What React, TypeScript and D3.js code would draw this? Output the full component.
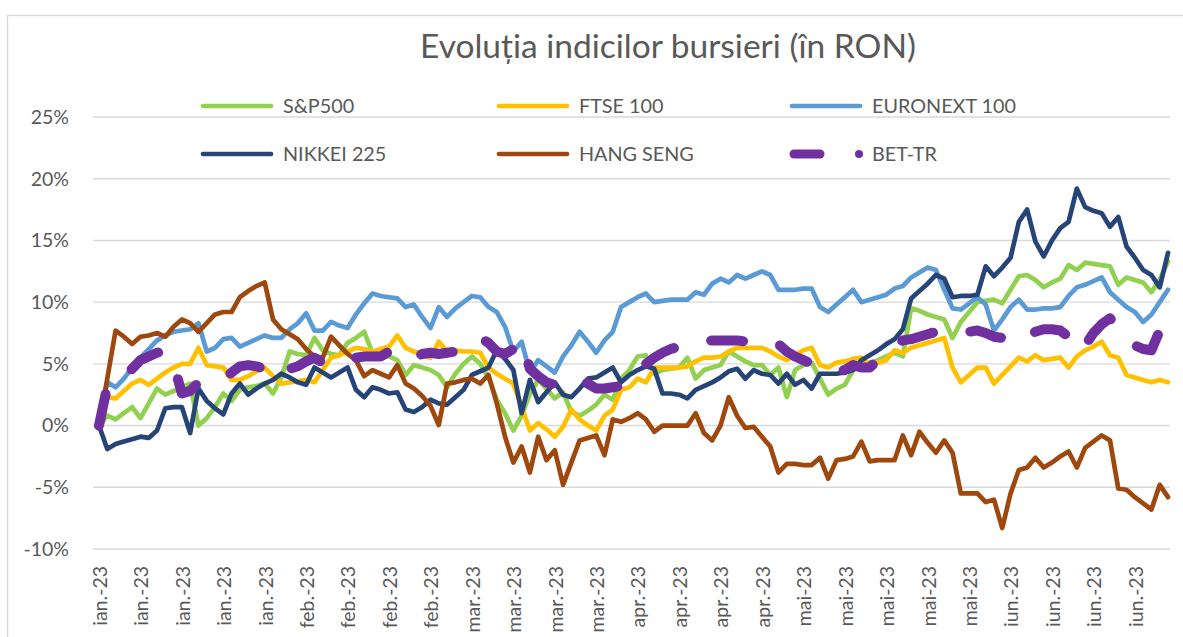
import React from 'react';
import * as d3 from 'd3';

const W = 1183;
const H = 637;

// x axis labels, one every 5 trading days
const tickLabels = [
  'ian.-23', 'ian.-23', 'ian.-23', 'ian.-23', 'ian.-23',
  'feb.-23', 'feb.-23', 'feb.-23', 'feb.-23',
  'mar.-23', 'mar.-23', 'mar.-23', 'mar.-23',
  'apr.-23', 'apr.-23', 'apr.-23', 'apr.-23',
  'mai-23', 'mai-23', 'mai-23', 'mai-23', 'mai-23',
  'iun.-23', 'iun.-23', 'iun.-23', 'iun.-23',
];
const yTicks = [-10, -5, 0, 5, 10, 15, 20, 25];

// daily % change vs start, in RON
const sp500 = [
  0, 0.8, 0.5, 1.0, 1.5, 0.6, 1.8, 3.0, 2.5, 2.8,
  3.1, 3.4, 0.0, 0.6, 1.5, 2.6, 2.0, 2.9, 3.1, 3.2,
  3.4, 2.6, 3.9, 6.0, 5.8, 5.7, 7.1, 6.1, 5.8, 5.7,
  6.7, 7.1, 7.6, 5.9, 5.7, 5.6, 5.3, 4.1, 4.9, 4.7,
  4.5, 4.1, 3.1, 4.2, 5.0, 5.6, 5.0, 3.9, 2.1, 1.0,
  -0.4, 0.8, 2.6, 3.7, 3.0, 2.2, 2.7, 1.1, 0.8, 1.2,
  1.7, 2.5, 2.1, 3.8, 4.5, 5.6, 5.7, 4.2, 4.5, 4.6,
  4.7, 5.5, 3.8, 4.5, 4.7, 4.9, 6.0, 5.6, 5.2, 4.9,
  4.9, 4.1, 4.7, 2.3, 4.5, 4.9, 5.1, 3.8, 2.5, 3.0,
  3.3, 4.5, 4.8, 5.1, 5.3, 5.6, 5.9, 5.6, 9.5, 9.3,
  9.0, 8.8, 8.6, 7.1, 8.4, 9.2, 10.0, 10.1, 10.2, 9.9,
  11.0, 12.1, 12.2, 11.8, 11.2, 11.6, 11.9, 13.0, 12.6, 13.2,
  13.1, 13.0, 12.9, 11.4, 12.0, 11.8, 11.6, 10.8, 11.8, 13.3,
];

const ftse100 = [
  0, 2.3, 2.2, 2.8, 3.4, 3.7, 3.3, 3.8, 4.3, 4.7,
  5.0, 5.0, 6.3, 4.9, 4.8, 4.7, 3.7, 3.7, 4.0, 4.4,
  4.7, 4.0, 3.4, 3.5, 3.6, 3.7, 3.5, 4.5, 5.5, 5.7,
  6.0, 6.3, 6.2, 6.0, 6.2, 6.4, 7.3, 6.3, 6.0, 5.7,
  5.5, 6.8, 6.0, 6.1, 6.0, 6.0, 5.9, 4.7, 4.2, 3.8,
  3.4, 1.5, -0.4, 0.2, -0.3, -0.9, -0.1, 1.3, 0.5, 0.0,
  -0.4, 0.8, 1.3, 2.9, 3.1, 3.8, 3.5, 4.7, 4.7, 4.7,
  4.7, 4.8, 5.2, 5.5, 5.5, 5.6, 6.0, 6.3, 6.3, 6.3,
  6.3, 6.0, 5.6, 5.3, 5.7, 6.1, 6.3, 4.9, 4.7, 5.1,
  5.2, 5.4, 5.5, 4.9, 5.1, 5.3, 6.1, 5.9, 6.3, 6.5,
  6.7, 6.9, 7.1, 4.7, 3.5, 4.1, 4.7, 4.7, 3.4, 4.1,
  4.8, 5.5, 5.2, 5.7, 5.3, 5.4, 5.5, 4.7, 5.6, 6.1,
  6.4, 6.8, 5.7, 5.5, 4.1, 3.9, 3.7, 3.5, 3.7, 3.5,
];

const euronext100 = [
  0, 3.5, 3.1, 3.8, 4.7, 5.5, 6.2, 6.9, 7.3, 7.6,
  7.7, 7.8, 8.3, 6.0, 6.3, 7.0, 7.1, 6.4, 6.7, 7.0,
  7.3, 7.1, 7.1, 7.8, 8.3, 9.1, 7.7, 7.7, 8.4, 8.1,
  7.9, 9.0, 9.9, 10.7, 10.5, 10.4, 10.3, 9.6, 9.8, 8.8,
  7.9, 9.6, 8.8, 9.5, 10.0, 10.5, 10.4, 9.6, 9.2, 8.0,
  6.0, 6.8, 4.3, 5.3, 4.8, 4.3, 5.6, 6.5, 7.6, 6.8,
  5.9, 6.9, 7.6, 9.6, 10.0, 10.4, 10.7, 10.0, 10.1, 10.2,
  10.2, 10.2, 10.8, 10.6, 11.5, 11.9, 11.6, 12.2, 11.9, 12.2,
  12.5, 12.2, 11.0, 11.0, 11.0, 11.1, 11.1, 9.6, 9.2, 9.8,
  10.4, 11.0, 10.0, 10.2, 10.4, 10.6, 11.1, 11.3, 12.0, 12.4,
  12.8, 12.6, 11.0, 9.5, 9.4, 9.9, 10.4, 9.8, 7.7, 8.6,
  9.6, 10.2, 9.4, 9.4, 9.5, 9.5, 9.6, 10.5, 11.2, 11.4,
  11.7, 12.0, 10.8, 10.2, 9.6, 9.2, 8.4, 9.0, 10.0, 11.0,
];

const nikkei225 = [
  0, -1.9, -1.5, -1.3, -1.1, -0.9, -1.0, -0.4, 1.4, 1.5,
  1.5, -0.6, 3.0, 2.0, 1.4, 0.9, 2.6, 3.4, 2.5, 3.0,
  3.4, 3.7, 4.2, 3.9, 3.5, 3.3, 4.7, 4.3, 3.9, 4.3,
  4.7, 2.9, 2.3, 3.1, 2.9, 2.6, 2.7, 1.3, 1.1, 1.5,
  2.1, 1.8, 1.7, 2.3, 2.9, 4.1, 4.4, 4.7, 6.1, 5.4,
  4.5, 1.0, 3.7, 1.9, 2.7, 3.5, 2.5, 2.3, 3.0, 3.8,
  3.9, 4.3, 4.7, 3.5, 4.1, 4.5, 4.8, 4.6, 2.6, 2.6,
  2.5, 2.2, 2.9, 3.2, 3.5, 3.9, 4.4, 4.6, 3.8, 4.5,
  4.2, 4.1, 3.4, 4.2, 3.3, 3.7, 3.0, 4.2, 4.2, 4.2,
  4.3, 4.5, 5.3, 5.7, 6.1, 6.6, 7.0, 7.8, 10.3, 10.9,
  11.5, 12.2, 11.9, 10.4, 10.5, 10.5, 10.6, 12.9, 12.1, 12.8,
  13.6, 16.5, 17.5, 14.9, 13.7, 15.0, 16.0, 16.5, 19.2, 17.7,
  17.4, 17.2, 16.1, 16.9, 14.5, 13.6, 12.6, 12.2, 11.2, 14.0,
];

const hangSeng = [
  0, 3.8, 7.7, 7.2, 6.6, 7.2, 7.3, 7.5, 7.2, 8.0,
  8.6, 8.3, 7.6, 8.3, 9.0, 9.2, 9.2, 10.4, 10.9, 11.3,
  11.6, 8.6, 7.8, 7.4, 7.0, 6.2, 5.6, 5.5, 7.2, 6.5,
  5.8, 5.3, 4.0, 4.5, 4.2, 3.9, 4.9, 3.4, 3.0, 2.4,
  1.6, 0.05, 3.4, 3.5, 3.7, 3.8, 3.4, 4.1, 1.8, -0.9,
  -3.0, -1.7, -3.8, -0.9, -2.8, -2.0, -4.8, -3.0, -1.2, -1.0,
  -0.8, -2.4, 0.5, 0.3, 0.6, 1.0, 0.5, -0.5, 0, 0,
  0, 0, 1.0, -0.6, -1.2, 0, 2.3, 0.8, -0.2, -0.1,
  -0.9, -1.7, -3.8, -3.1, -3.1, -3.2, -3.2, -2.6, -4.3, -2.8,
  -2.7, -2.5, -1.3, -2.9, -2.8, -2.8, -2.8, -0.8, -2.4, -0.5,
  -1.4, -2.2, -1.2, -2.2, -5.5, -5.5, -5.5, -6.2, -6.0, -8.3,
  -5.5, -3.6, -3.4, -2.6, -3.4, -3.0, -2.5, -2.1, -3.4, -1.8,
  -1.3, -0.8, -1.2, -5.1, -5.2, -5.8, -6.3, -6.8, -4.8, -5.8,
];

const betTr = [
  0, 3.2, 3.6, 4.0, 4.6, 5.3, 5.6, 5.9, 6.0, 5.0,
  2.6, 2.8, 3.5, 3.7, 3.6, 3.8, 4.3, 4.8, 4.9, 4.8,
  4.6, 3.9, 4.2, 4.6, 4.8, 5.2, 5.5, 5.1, 4.9, 5.0,
  5.2, 5.5, 5.6, 5.6, 5.6, 6.0, 6.1, 5.5, 5.5, 5.8,
  5.9, 5.8, 5.9, 6.0, 6.2, 6.5, 7.1, 6.7, 6.0, 5.8,
  6.2, 6.9, 4.6, 4.0, 3.5, 3.3, 3.4, 3.4, 3.8, 3.4,
  3.0, 3.0, 3.1, 3.2, 3.5, 4.2, 5.0, 5.5, 5.9, 6.2,
  6.4, 6.5, 6.6, 6.8, 6.9, 6.9, 6.9, 6.9, 6.8, 6.7,
  6.8, 6.8, 6.6, 6.0, 5.6, 5.3, 5.0, 4.8, 4.6, 4.4,
  4.5, 4.9, 4.7, 4.7, 5.3, 5.9, 6.4, 6.9, 7.0, 7.2,
  7.4, 7.6, 7.6, 7.4, 7.5, 7.6, 7.7, 7.5, 7.2, 7.1,
  6.7, 6.8, 7.2, 7.6, 7.8, 7.8, 7.7, 7.2, 6.0, 6.5,
  7.5, 8.2, 8.7, 7.8, 7.0, 6.5, 6.2, 6.1, 7.7, 9.2,
];

const seriesNames = ['S&P500', 'FTSE 100', 'EURONEXT 100', 'NIKKEI 225', 'HANG SENG', 'BET-TR'];
const seriesValues = [sp500, ftse100, euronext100, nikkei225, hangSeng, betTr];
const seriesColors = ['#92D050', '#FFC000', '#5B9BD5', '#264478', '#9E480E', '#7030A0'];

const FONT = "Lato, 'Open Sans', sans-serif";
const TEXT = '#595959';

export default function App() {
  const x = d3.scaleLinear().domain([0, sp500.length - 1]).range([99, 1168]);
  const y = d3.scaleLinear().domain([-10, 25]).range([549, 117]);
  const line = d3.line<number>().x((d, i) => x(i)).y((d) => y(d));

  const legendX = [201, 497, 790];
  const legendY = [106, 154];

  return (
    <svg width={W} height={H} style={{ position: 'absolute', left: 0, top: 0, background: '#fff' }}>
      <rect x={7.5} y={15.5} width={W + 20} height={H + 20} fill="#fff" stroke="#d9d9d9" strokeWidth={1.3} />
      <text x={668} y={58} textAnchor="middle" fontFamily={FONT} fontSize={33.5} fill={TEXT}>
        Evoluția indicilor bursieri (în RON)
      </text>

      {/* grid + y labels */}
      {yTicks.map((t) => (
        <g key={t}>
          <line x1={93} x2={1170} y1={y(t)} y2={y(t)} stroke="#d9d9d9" strokeWidth={1.4} />
          <text x={69} y={y(t)} dy="0.35em" textAnchor="end" fontFamily={FONT} fontSize={19.5} fill={TEXT}>
            {t + '%'}
          </text>
        </g>
      ))}

      {/* x labels */}
      {tickLabels.map((lab, k) => (
        <text
          key={k}
          transform={`translate(${x(k * 5) + 1},566) rotate(-90)`}
          dy="0.35em"
          textAnchor="end"
          fontFamily={FONT}
          fontSize={19.5}
          fill={TEXT}
        >
          {lab}
        </text>
      ))}

      {/* series */}
      {seriesValues.map((vals, s) => (
        <path
          key={seriesNames[s]}
          d={line(vals) || ''}
          fill="none"
          stroke={seriesColors[s]}
          strokeWidth={s === 5 ? 10 : 4.7}
          strokeLinejoin="round"
          strokeLinecap="round"
          strokeDasharray={s === 5 ? '32 38' : undefined}
        />
      ))}

      {/* legend */}
      {seriesNames.map((name, s) => {
        const lx = legendX[s % 3];
        const ly = legendY[Math.floor(s / 3)];
        return (
          <g key={name}>
            {s === 5 ? (
              <>
                <line x1={794} x2={820} y1={ly} y2={ly} stroke={seriesColors[s]} strokeWidth={9} strokeLinecap="round" />
                <circle cx={859} cy={ly} r={4} fill={seriesColors[s]} />
              </>
            ) : (
              <line x1={lx + 2} x2={lx + 70} y1={ly} y2={ly} stroke={seriesColors[s]} strokeWidth={4.7} strokeLinecap="round" />
            )}
            <text x={lx + 82} y={ly} dy="0.35em" fontFamily={FONT} fontSize={19.8} fill={TEXT}>
              {name}
            </text>
          </g>
        );
      })}
    </svg>
  );
}
